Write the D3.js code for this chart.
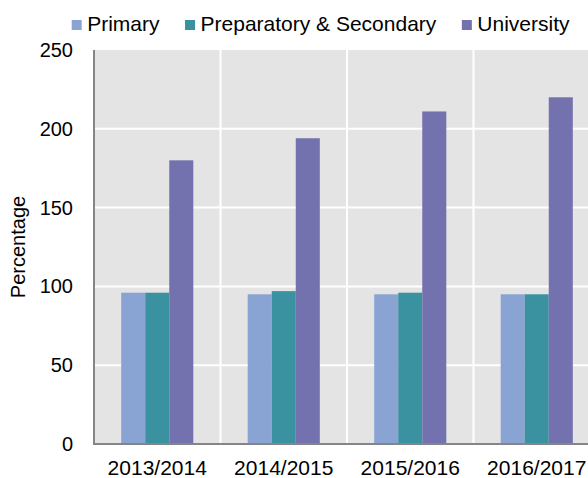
<!DOCTYPE html>
<html>
<head>
<meta charset="utf-8">
<script src="https://cdn.jsdelivr.net/npm/d3@7"></script>
<style>
  body { margin: 0; background: #fff; overflow: hidden; }
  text { font-family: "Liberation Sans", Arial, sans-serif; fill: #000; }
</style>
</head>
<body>
<svg width="588" height="478"></svg>
<script>
// chart values
var years = ["2013/2014", "2014/2015", "2015/2016", "2016/2017"];
var seriesNames = ["Primary", "Preparatory & Secondary", "University"];
var primary = [96, 95, 95, 95];
var secondary = [96, 97, 96, 95];
var university = [180, 194, 211, 220];
var yTicks = [0, 50, 100, 150, 200, 250];
var colors = ["#89a4d3", "#3a92a0", "#7371ae"];

var seriesValues = [primary, secondary, university];

var margin = { top: 50, left: 94, bottom: 444, right: 600 };

var svg = d3.select("svg");

var x0 = d3.scaleBand()
  .domain(years)
  .range([margin.left, margin.right])
  .paddingInner(0.43)
  .paddingOuter(0.215);

var x1 = d3.scaleBand()
  .domain(seriesNames)
  .range([0, x0.bandwidth()]);

var y = d3.scaleLinear().domain([0, 250]).range([margin.bottom, margin.top]);

// plot background
svg.append("rect")
  .attr("x", margin.left)
  .attr("y", margin.top)
  .attr("width", margin.right - margin.left)
  .attr("height", margin.bottom - margin.top)
  .attr("fill", "#e4e4e4");

// horizontal grid
svg.append("g")
  .selectAll("line")
  .data(yTicks.filter((t) => t > 0 && t < 250))
  .enter()
  .append("line")
  .attr("x1", margin.left)
  .attr("x2", margin.right)
  .attr("y1", (d) => y(d))
  .attr("y2", (d) => y(d))
  .attr("stroke", "#fff")
  .attr("stroke-width", 2);

// vertical grid between categories
var step = x0.step();
svg.append("g")
  .selectAll("line")
  .data(years.slice(1))
  .enter()
  .append("line")
  .attr("x1", (d) => x0(d) - step * x0.paddingInner() / 2)
  .attr("x2", (d) => x0(d) - step * x0.paddingInner() / 2)
  .attr("y1", margin.top)
  .attr("y2", margin.bottom)
  .attr("stroke", "#fff")
  .attr("stroke-width", 2);

// bars
var groups = svg.append("g")
  .selectAll("g")
  .data(years)
  .enter()
  .append("g")
  .attr("transform", (d) => "translate(" + x0(d) + ",0)");

groups.selectAll("rect")
  .data((d, i) => seriesNames.map((s, j) => ({ s: s, v: seriesValues[j][i], c: colors[j] })))
  .enter()
  .append("rect")
  .attr("x", (d) => x1(d.s))
  .attr("width", x1.bandwidth())
  .attr("y", (d) => y(d.v))
  .attr("height", (d) => y(0) - y(d.v))
  .attr("fill", (d) => d.c);

// axes
var axisY = d3.axisLeft(y).tickValues(yTicks).tickSize(0).tickPadding(21);
svg.append("g")
  .attr("transform", "translate(" + margin.left + ",0)")
  .call(axisY)
  .call((g) => g.select(".domain").remove())
  .selectAll("text")
  .style("font-size", "20px");

var axisX = d3.axisBottom(x0).tickSize(0).tickPadding(16.5);
svg.append("g")
  .attr("transform", "translate(0," + margin.bottom + ")")
  .call(axisX)
  .call((g) => g.select(".domain").remove())
  .selectAll("text")
  .style("font-size", "21px");

svg.selectAll(".tick text").attr("fill", "#000");

// axis lines
svg.append("line")
  .attr("x1", margin.left).attr("x2", margin.left)
  .attr("y1", margin.top).attr("y2", margin.bottom + 1)
  .attr("stroke", "#858585").attr("stroke-width", 2);
svg.append("line")
  .attr("x1", margin.left).attr("x2", margin.right)
  .attr("y1", margin.bottom).attr("y2", margin.bottom)
  .attr("stroke", "#858585").attr("stroke-width", 2);

// y title
svg.append("text")
  .attr("transform", "translate(25," + (margin.top + margin.bottom) / 2 + ") rotate(-90)")
  .attr("text-anchor", "middle")
  .style("font-size", "20px")
  .text("Percentage");

// legend
var legend = svg.append("g");
var lx = 71.7;
seriesNames.forEach((name, i) => {
  legend.append("rect")
    .attr("x", lx).attr("y", 20)
    .attr("width", 10).attr("height", 10)
    .attr("fill", colors[i]);
  var t = legend.append("text")
    .attr("x", lx + 15.5).attr("y", 24).attr("dy", "0.35em")
    .style("font-size", "21px")
    .text(name);
  lx += 15.5 + t.node().getComputedTextLength() + 25.5;
});
</script>
</body>
</html>
